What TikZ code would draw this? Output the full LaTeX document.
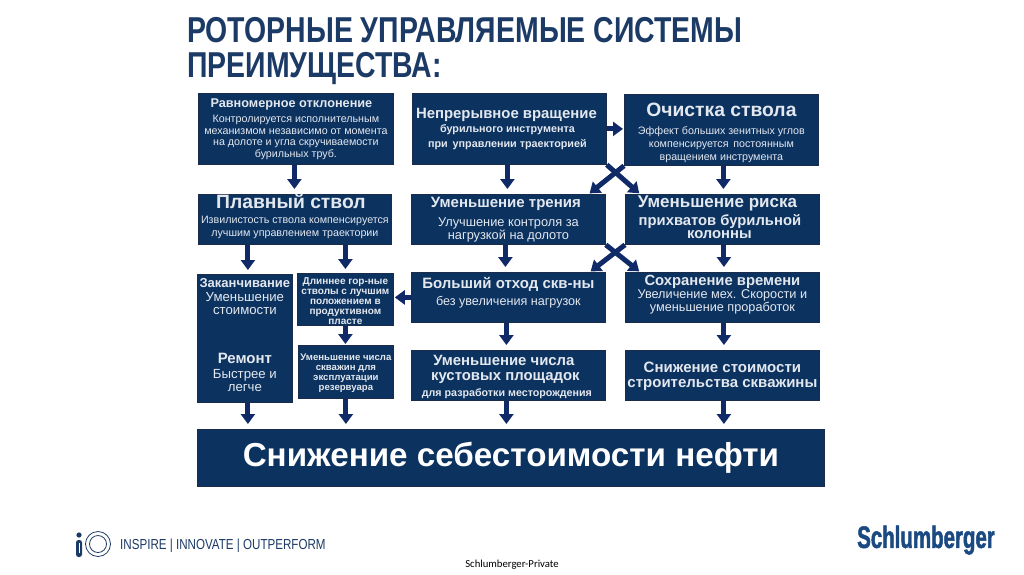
\documentclass[tikz,border=0pt]{standalone}
\usepackage{fontspec}
\usepackage{tikz}
\usetikzlibrary{arrows.meta}
\setmainfont{Liberation Sans}
\newfontfamily\narrowfont[FakeStretch=0.79]{Liberation Sans}
\newfontfamily\mottofont[FakeStretch=0.80]{Liberation Sans}
\newfontfamily\logofont[FakeStretch=0.66,FakeBold=1.5]{Liberation Sans}
\newfontfamily\footfont{Carlito}
\lineskiplimit=-30pt
\newcommand{\fsz}[2]{\fontsize{#1}{#2}\selectfont}
\newcommand{\hb}[2]{\fsz{#1}{10}\bfseries #2}
\newcommand{\tx}[2]{\fsz{#1}{10}#2}
\newcommand{\uph}[1]{\rule{0pt}{#1pt}}
\newcommand{\dep}[1]{\rule[-#1pt]{0pt}{#1pt}}
\definecolor{boxblue}{HTML}{0C3260}
\definecolor{boxedge}{HTML}{1B2B4B}
\definecolor{arrowblue}{HTML}{0F2A66}
\definecolor{titleblue}{HTML}{1C3A66}
\definecolor{logoblue}{HTML}{1B4A82}
\definecolor{softwhite}{HTML}{E3E8EF}
\tikzset{
  infobox/.style={draw=boxedge,line width=0.8pt,fill=boxblue,text=softwhite,align=center,inner sep=0pt,anchor=north west,font=\fsz{10}{10}},
  flowarrow/.style={draw=arrowblue,line width=5pt,-{Triangle[length=10pt,width=14pt]},shorten >=1pt},
}
\begin{document}
\begin{tikzpicture}[x=1pt,y=-1pt]
  \useasboundingbox (0,0) rectangle (1024,574);

  \node[anchor=north west,inner sep=0pt,text=titleblue,align=left,font=\narrowfont\bfseries\fsz{36}{35}] (title) at (187,17)
    {РОТОРНЫЕ УПРАВЛЯЕМЫЕ СИСТЕМЫ\\ПРЕИМУЩЕСТВА:};

  \node[infobox,minimum width=195pt,minimum height=71pt] (rovn) at (198,93)
    {\hspace*{-9pt}\hb{12.7}{Равномерное отклонение}\\[5.5pt]
     \tx{10.7}{Контролируется исполнительным}\\[1.5pt]
     \tx{10.7}{механизмом независимо от момента}\\[1.5pt]
     \tx{10.7}{на долоте и угла скручиваемости}\\[1.5pt]
     \tx{10.7}{бурильных труб.}};
  \node[infobox,minimum width=194pt,minimum height=71pt] (nepr) at (412,93)
    {\hspace*{-6pt}\hb{14.9}{Непрерывное вращение}\\[4.5pt]
     \hspace*{-4pt}\hb{10.8}{бурильного инструмента}\\[5pt]
     \hspace*{-4pt}\hb{10.8}{при\, управлении траекторией}};
  \node[infobox,minimum width=194pt,minimum height=71pt] (ochi) at (624,94)
    {\uph{19}\hb{19.3}{Очистка ствола}\\[8pt]
     \tx{10.7}{Эффект больших зенитных углов}\\[3pt]
     \tx{10.7}{компенсируется\, постоянным}\\[3pt]
     \tx{10.7}{вращением инструмента}};

  \node[infobox,minimum width=193pt,minimum height=49pt] (plav) at (198,194)
    {\hspace*{-8pt}\hb{19.3}{Плавный ствол}\\[5pt]
     \tx{10.7}{Извилистость ствола компенсируется}\\[3pt]
     \tx{10.7}{лучшим управлением траектории}\dep{8}};
  \node[infobox,minimum width=194pt,minimum height=50pt] (tren) at (411,194)
    {\hspace*{-5pt}\hb{15}{Уменьшение трения}\\[9pt]
     \tx{12.8}{Улучшение контроля за}\\[3pt]
     \tx{12.8}{нагрузкой на долото}};
  \node[infobox,minimum width=194pt,minimum height=50pt] (risk) at (625,194)
    {\hspace*{-10pt}\hb{17}{Уменьшение риска}\\[8pt]
     \hspace*{-5pt}\hb{14.8}{прихватов бурильной}\\[3pt]
     \hspace*{-6pt}\hb{14.8}{колонны}\dep{4}};

  \node[infobox,minimum width=95pt,minimum height=128pt] (zakn) at (197,274)
    {\hb{13}{Заканчивание}\\[4pt]
     \tx{13.2}{Уменьшение}\\[3pt]
     \tx{13.2}{стоимости}\\[39pt]
     \hb{15}{Ремонт}\\[5pt]
     \tx{13.2}{Быстрее и}\\[3pt]
     \tx{13.2}{легче}\dep{7}};
  \node[infobox,minimum width=96pt,minimum height=52pt] (dlin) at (297,273)
    {\uph{11}\hb{10}{Длиннее гор-ные}\\
     \hb{10}{стволы с лучшим}\\
     \hb{10}{положением в}\\
     \hb{10}{продуктивном}\\
     \hb{10}{пласте}};
  \node[infobox,minimum width=95pt,minimum height=53pt] (chis) at (298,345)
    {\uph{9}\hb{9.6}{Уменьшение числа}\\
     \hb{9.6}{скважин для}\\
     \hb{9.6}{эксплуатации}\\
     \hb{9.6}{резервуара}};
  \node[infobox,minimum width=194pt,minimum height=50pt] (otho) at (411,272)
    {\hb{15}{Больший отход скв-ны}\\[7pt]
     \tx{12.6}{без увеличения нагрузок}\dep{11.5}};
  \node[infobox,minimum width=194pt,minimum height=50pt] (vrem) at (625,272)
    {\hb{14.8}{Сохранение времени}\\[3pt]
     \tx{12.7}{Увеличение мех. Скорости и}\\[3pt]
     \tx{12.7}{уменьшение проработок}\dep{7.5}};
  \node[infobox,minimum width=194pt,minimum height=50pt] (kust) at (411,350)
    {\uph{14}\hspace*{-9pt}\hb{14.9}{Уменьшение числа}\\[5pt]
     \hspace*{-6pt}\hb{14.9}{кустовых площадок}\\[6pt]
     \hspace*{-3pt}\hb{10.7}{для разработки месторождения}};
  \node[infobox,minimum width=194pt,minimum height=50pt] (stoi) at (625,350)
    {\uph{13}\hb{15}{Снижение стоимости}\\[5pt]
     \hb{15}{строительства скважины}};
  \node[infobox,minimum width=627pt,minimum height=57pt,text=white] (neft) at (197,429)
    {\hb{33.2}{Снижение себестоимости нефти}};

  \draw[flowarrow] ([xshift=-1.5pt]rovn.south) -- ([xshift=-1.5pt,yshift=4pt]rovn.south |- plav.north);
  \draw[flowarrow] ([xshift=3pt]zakn.north |- plav.south) -- ([xshift=3pt,yshift=3pt]zakn.north);
  \draw[flowarrow] (dlin.north |- plav.south) -- ([yshift=3pt]dlin.north);
  \draw[flowarrow] (dlin.south) -- (chis.north -| dlin.south);
  \draw[flowarrow] (chis.south) -- ([yshift=4pt]chis.south |- neft.north);
  \draw[flowarrow] ([xshift=3pt]zakn.south) -- ([xshift=3pt,yshift=4pt]zakn.south |- neft.north);

  \draw[flowarrow] ([xshift=-2pt]nepr.south) -- ([xshift=-2pt,yshift=4pt]nepr.south |- tren.north);
  \draw[flowarrow] ([xshift=-3pt]tren.south) -- ([xshift=-3pt,yshift=4pt]tren.south |- otho.north);
  \draw[flowarrow] ([xshift=-2pt]otho.south) -- ([xshift=-2pt,yshift=4pt]otho.south |- kust.north);
  \draw[flowarrow] ([xshift=-2pt]kust.south) -- ([xshift=-2pt,yshift=4pt]kust.south |- neft.north);

  \draw[flowarrow] ([xshift=2pt]ochi.south) -- ([xshift=2pt,yshift=4pt]ochi.south |- risk.north);
  \draw[flowarrow] ([xshift=1.5pt]risk.south) -- ([xshift=1.5pt,yshift=4pt]risk.south |- vrem.north);
  \draw[flowarrow] ([xshift=1.5pt]vrem.south) -- ([xshift=1.5pt,yshift=4pt]vrem.south |- stoi.north);
  \draw[flowarrow] ([xshift=1.5pt]stoi.south) -- ([xshift=1.5pt,yshift=4pt]stoi.south |- neft.north);

  \draw[flowarrow] (nepr.east) -- (ochi.west |- nepr.east);
  \draw[flowarrow] (otho.west) -- (dlin.east |- otho.west);

  \draw[flowarrow] (nepr.south east) -- ([xshift=15pt]risk.north west);
  \draw[flowarrow] (ochi.south west) -- ([xshift=-17pt]tren.north east);
  \draw[flowarrow] (tren.south east) -- ([xshift=15pt]vrem.north west);
  \draw[flowarrow] (risk.south west) -- ([xshift=-16pt]otho.north east);

  % logo at the bottom
  \fill[titleblue] (79,535) circle (2.6pt);
  \fill[titleblue,rounded corners=2.5pt] (76,540) rectangle (82,557);
  \draw[white,line width=1pt] (79,543) -- (79,553);
  \draw[titleblue,line width=0.8pt] (98,544) circle (12.5pt);
  \draw[titleblue,line width=0.8pt] (98,544) circle (8.5pt);
  \node[anchor=west,inner sep=0pt,text=titleblue,font=\mottofont\fsz{14.5}{15}] (motto) at (120,546) {INSPIRE | INNOVATE | OUTPERFORM};
  \node[anchor=west,inner sep=0pt,text=logoblue,font=\logofont\bfseries\fsz{31}{33}] (slb) at (857,540) {Schlumberger};
  \node[inner sep=0pt,font=\footfont\fsz{10.7}{12}] (priv) at (512,565) {Schlumberger-Private};
\end{tikzpicture}
\end{document}
